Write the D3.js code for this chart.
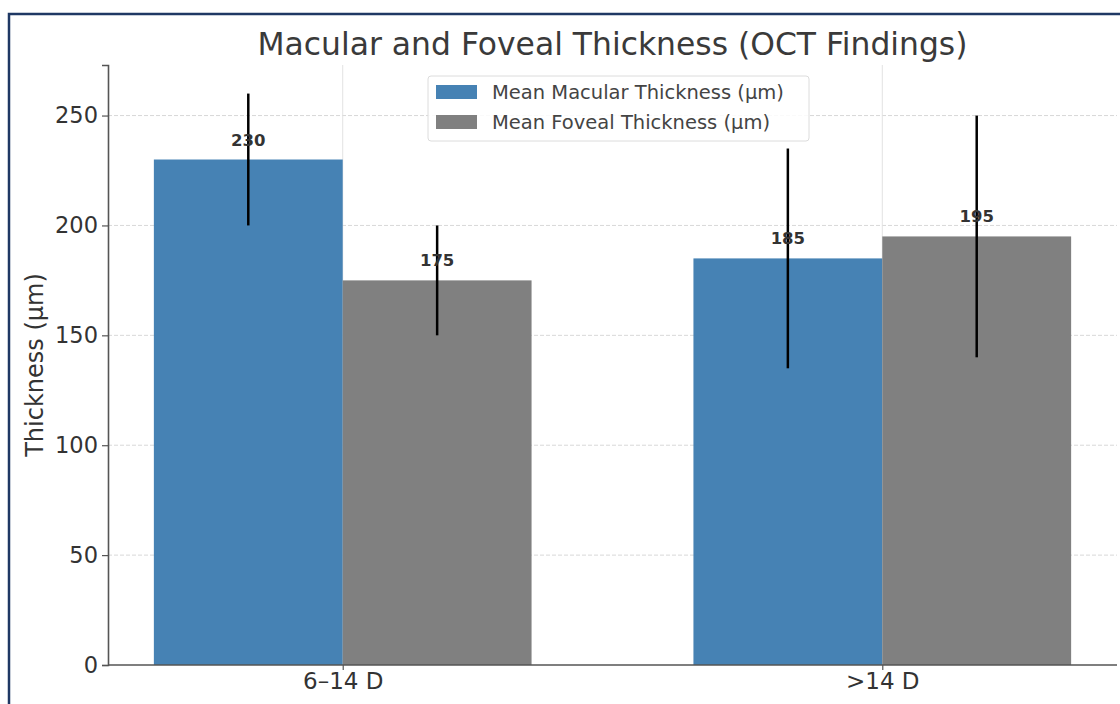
<!DOCTYPE html>
<html><head><meta charset="utf-8">
<script src="https://cdn.jsdelivr.net/npm/d3@7"></script>
<style>body{margin:0;background:#fff}svg{display:block}text{font-family:"DejaVu Sans",sans-serif}</style>
</head><body>
<svg id="c" width="1120" height="704"></svg>
<script>
const categories = ["6–14 D", ">14 D"];
const seriesNames = ["Mean Macular Thickness (μm)", "Mean Foveal Thickness (μm)"];
const macular = [230, 185];
const macularErr = [30, 50];
const foveal = [175, 195];
const fovealErr = [25, 55];
const yTicks = [0, 50, 100, 150, 200, 250];
const colors = ["#4682b4", "#808080"];

const svg = d3.select("#c");
const M = {l:108, r:1117, t:65, b:665};
const barW = 0.35;
const x = d3.scaleLinear().domain([-0.435, 1.435]).range([M.l, M.r]);
const y = d3.scaleLinear().domain([0, 273]).range([M.b, M.t]);

// frame
svg.append("rect").attr("x",9).attr("y",14).attr("width",1130).attr("height",720)
  .attr("fill","none").attr("stroke","#1f3864").attr("stroke-width",2.5);

// grid
const g = svg.append("g");
g.selectAll(".hg").data(yTicks.slice(1)).join("line")
  .attr("x1",M.l).attr("x2",M.r).attr("y1",d=>y(d)).attr("y2",d=>y(d))
  .attr("stroke","#d8d8d8").attr("stroke-width",1).attr("stroke-dasharray","4,2");
g.selectAll(".vg").data(categories).join("line")
  .attr("x1",(d,i)=>x(i)).attr("x2",(d,i)=>x(i)).attr("y1",M.t).attr("y2",M.b)
  .attr("stroke","#e2e2e2").attr("stroke-width",1);

const series = [
  {vals:macular, err:macularErr, off:-barW/2, color:colors[0]},
  {vals:foveal, err:fovealErr, off:barW/2, color:colors[1]}
];
series.forEach(s=>{
  svg.append("g").selectAll("rect").data(s.vals).join("rect")
    .attr("x",(d,i)=>x(i+s.off-barW/2)).attr("width",x(barW)-x(0))
    .attr("y",d=>y(d)).attr("height",d=>y(0)-y(d)).attr("fill",s.color);
});
series.forEach(s=>{
  svg.append("g").selectAll("line").data(s.vals).join("line")
    .attr("x1",(d,i)=>x(i+s.off)).attr("x2",(d,i)=>x(i+s.off))
    .attr("y1",(d,i)=>y(d-s.err[i])).attr("y2",(d,i)=>y(d+s.err[i]))
    .attr("stroke","#000").attr("stroke-width",2.5);
  svg.append("g").selectAll("text").data(s.vals).join("text")
    .attr("x",(d,i)=>x(i+s.off)).attr("y",d=>y(d+5)-3)
    .attr("text-anchor","middle").attr("font-size",16.5).attr("font-weight","bold")
    .attr("fill","#333").text(d=>d);
});

// axes
const yAxis = d3.axisLeft(y).tickValues(yTicks).tickSize(6).tickPadding(4);
const ya = svg.append("g").attr("transform",`translate(${M.l},0)`).call(yAxis);
ya.select(".domain").attr("stroke","#555").attr("stroke-width",1.6);
ya.selectAll(".tick line").attr("stroke","#555").attr("stroke-width",1.2);
ya.selectAll(".tick text").attr("font-size",22.5).attr("fill","#333");

const xAxis = d3.axisBottom(x).tickValues([0,1]).tickFormat(i=>categories[i]).tickSize(5).tickPadding(3);
const xa = svg.append("g").attr("transform",`translate(0,${M.b})`).call(xAxis);
xa.select(".domain").attr("stroke","#555").attr("stroke-width",1.6).attr("d",`M${M.l},0H${M.r}`);
xa.selectAll(".tick line").attr("stroke","#555").attr("stroke-width",1.2);
xa.selectAll(".tick text").attr("font-size",23).attr("fill","#333");

// y label
svg.append("text").attr("transform",`translate(43,${(M.t+M.b)/2}) rotate(-90)`)
  .attr("text-anchor","middle").attr("font-size",24).attr("fill","#333").text("Thickness (μm)");

// title
svg.append("text").attr("x",(M.l+M.r)/2).attr("y",55).attr("text-anchor","middle")
  .attr("font-size",31.4).attr("fill","#3a3a3a").text("Macular and Foveal Thickness (OCT Findings)");

// legend
const lg = svg.append("g").attr("transform","translate(428,76)");
lg.append("rect").attr("width",381).attr("height",65).attr("rx",3)
  .attr("fill","#fff").attr("fill-opacity",0.85).attr("stroke","#dcdcdc");
seriesNames.forEach((n,i)=>{
  lg.append("rect").attr("x",8).attr("y",9+i*30).attr("width",41).attr("height",14).attr("fill",colors[i]);
  lg.append("text").attr("x",64).attr("y",23+i*30).attr("font-size",19.5).attr("fill","#444").text(n);
});
</script>
</body></html>
